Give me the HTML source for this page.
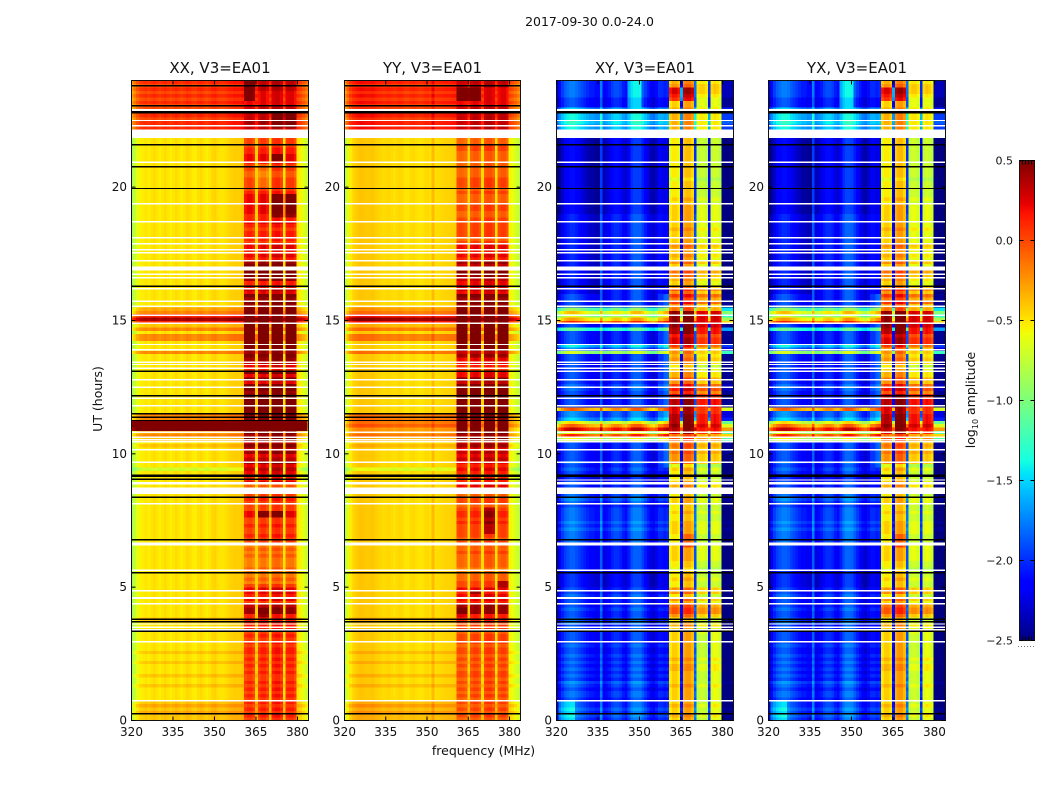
<!DOCTYPE html>
<html>
<head>
<meta charset="utf-8">
<title>2017-09-30 dynamic spectra</title>
<style>
html,body{margin:0;padding:0;background:#fff;}
svg{display:block;}
text{font-family:"DejaVu Sans","Liberation Sans",sans-serif;fill:#111;}
</style>
</head>
<body>
<svg id="figure" width="1050" height="800" viewBox="0 0 1050 800" xmlns="http://www.w3.org/2000/svg">
  <text x="589.5" y="26" font-size="12.5" text-anchor="middle">2017-09-30 0.0-24.0</text>
  <text transform="translate(102,399) rotate(-90)" font-size="12.5" text-anchor="middle">UT (hours)</text>
  <text x="483.5" y="755" font-size="12.5" text-anchor="middle">frequency (MHz)</text>
  <text transform="translate(975,400) rotate(-90)" font-size="12.5" text-anchor="middle">log<tspan font-size="8" dy="3">10</tspan><tspan dy="-3"> amplitude</tspan></text>
</svg>
<script>
// ---- Data ----
const panelTitles = ["XX, V3=EA01", "YY, V3=EA01", "XY, V3=EA01", "YX, V3=EA01"];
const freqTicks = [320, 335, 350, 365, 380];
const timeTicks = [0, 5, 10, 15, 20];
const colorTicks = [-2.5, -2.0, -1.5, -1.0, -0.5, 0.0, 0.5];
const firstChannelMHz = 319.7;
const rowsPerHour = 8;
const offsetUnit = 0.1;
const bandStarts = [360.7, 365.7, 370.7, 375.7];
const bandEnds = [364.7, 369.7, 374.7, 379.7];

// quiet-sky log10 amplitude per 1 MHz channel
const xxSpectrum = [
-.85,-.72,-.62,-.55,-.52,-.50,-.53,-.50,-.47,-.50,
-.53,-.50,-.47,-.50,-.53,-.50,-.47,-.50,-.53,-.50,
-.46,-.48,-.52,-.53,-.48,-.46,-.50,-.53,-.50,-.46,
-.44,-.48,-.50,-.50,-.48,-.45,-.44,-.42,-.42,-.42,
-.40,-.12,-.07,-.07,-.14,-.42,-.12,-.04,-.04,-.12,
-.45,-.04,.00,.00,-.07,-.50,-.07,-.04,-.04,-.12,
-.50,-.55,-.62,-.70,-.78];
const yySpectrum = [
-.80,-.65,-.52,-.46,-.42,-.40,-.39,-.40,-.41,-.41,
-.40,-.42,-.44,-.45,-.47,-.46,-.45,-.47,-.48,-.47,
-.45,-.47,-.50,-.50,-.47,-.46,-.48,-.50,-.50,-.47,
-.46,-.48,-.36,-.48,-.47,-.46,-.45,-.44,-.44,-.43,
-.42,-.10,-.08,-.10,-.14,-.44,-.10,-.05,-.05,-.12,
-.46,-.06,-.02,-.02,-.08,-.48,-.10,-.05,-.05,-.12,
-.55,-.60,-.66,-.73,-.82];
const xySpectrum = [
-2.40,-2.20,-2.05,-1.95,-1.90,-1.85,-1.85,-1.90,-1.95,-2.00,
-2.05,-2.10,-2.15,-2.15,-2.20,-2.20,-1.85,-2.25,-2.20,-2.15,
-2.05,-2.00,-2.00,-2.05,-2.15,-2.20,-2.05,-1.90,-1.85,-1.85,
-1.85,-1.95,-2.05,-2.15,-2.25,-2.30,-2.20,-2.10,-2.10,-2.15,
-2.10,-.62,-.52,-.52,-.62,-2.20,-.42,-.37,-.37,-.47,
-1.90,-.78,-.72,-.72,-.80,-2.10,-.75,-.68,-.72,-.80,
-2.45,-2.45,-2.45,-2.45,-2.45];
const yxSpectrum = [
-2.40,-2.20,-2.05,-1.95,-1.90,-1.85,-1.85,-1.88,-1.95,-2.00,
-2.05,-2.10,-2.15,-2.15,-2.20,-2.20,-1.85,-2.25,-2.20,-2.15,
-2.05,-2.00,-2.00,-2.05,-2.15,-2.20,-2.05,-1.90,-1.83,-1.83,
-1.85,-1.95,-2.05,-2.15,-2.25,-2.30,-2.20,-2.10,-2.10,-2.15,
-2.10,-.62,-.52,-.52,-.62,-2.20,-.42,-.35,-.35,-.47,
-1.90,-.75,-.70,-.70,-.78,-2.10,-.75,-.68,-.72,-.80,
-2.45,-2.45,-2.45,-2.45,-2.45];

// row offsets in tenths of a decade, 8 rows for each hour (line = one hour)
const coBackground = [
1,1,2,1,2,1,0,0,
0,0,1,0,0,1,0,0,
0,1,0,0,1,0,0,0,
0,0,0,0,0,0,1,0,
0,0,0,0,0,0,0,0,
0,0,0,0,0,0,0,0,
0,0,0,0,0,0,0,0,
0,0,0,0,0,0,0,0,
0,0,0,0,0,0,0,0,
0,0,0,-2,0,0,0,0,
0,0,1,0,1,3,2,2,
4,3,3,3,0,0,0,0,
0,0,0,0,0,0,0,0,
0,0,0,0,0,0,3,0,
0,0,3,3,0,3,1,6,
9,6,3,2,0,0,0,0,
0,0,0,0,0,0,0,0,
0,0,0,0,0,0,0,0,
0,0,0,0,0,0,0,0,
0,0,0,0,0,0,0,0,
0,0,0,0,0,0,0,0,
0,0,0,0,0,0,0,0,
6,6,6,6,5,6,6,5,
5,6,5,6,5,6,5,6];
const xxBand = [
1,2,1,2,1,2,1,2,
1,2,1,2,1,1,2,1,
2,1,2,1,2,2,1,2,
1,2,1,2,2,2,2,2,
5,5,4,1,3,2,3,3,
1,-1,0,-1,-1,0,-1,-1,
-1,0,-1,0,-1,1,1,2,
1,1,2,1,1,3,3,1,
1,1,2,1,3,2,0,3,
2,2,3,4,3,5,4,3,
5,4,6,4,7,5,9,9,
9,9,9,9,7,8,9,8,
7,8,5,8,6,3,6,3,
6,2,3,4,5,6,5,6,
6,8,8,9,9,9,9,9,
10,10,10,6,5,8,5,7,
3,4,2,2,5,6,7,7,
6,5,2,3,2,3,3,1,
2,2,2,1,2,3,2,2,
3,3,3,3,3,3,2,1,
1,1,1,0,0,1,1,2,
3,3,2,2,1,1,1,1,
4,4,4,5,4,4,4,4,
3,3,3,3,3,4,4,4];
const yyBand = [
0,1,0,1,0,1,0,1,
0,1,0,1,0,1,1,0,
1,0,1,0,1,1,0,1,
1,1,0,1,1,1,2,2,
5,5,5,2,3,3,2,3,
1,1,0,0,-1,-1,0,0,
0,0,1,0,0,1,0,1,
1,1,1,2,1,2,2,1,
0,1,1,0,3,3,3,2,
2,1,2,3,2,3,4,3,
4,3,5,4,6,5,8,9,
7,8,8,8,8,8,6,6,
7,7,6,6,6,4,6,3,
3,1,2,3,3,5,4,6,
7,8,8,8,9,9,9,9,
10,10,10,7,5,7,5,7,
3,4,3,3,4,5,6,5,
4,5,2,3,2,3,3,1,
0,1,1,1,1,1,1,0,
0,1,1,0,0,0,1,0,
1,1,1,0,0,0,0,0,
0,0,0,1,1,0,0,0,
4,4,4,4,4,4,4,4,
3,3,3,3,3,3,4,4];
const crossBackground = [
1,2,1,2,1,1,0,1,
1,0,1,2,0,1,0,1,
0,1,0,1,0,0,1,0,
0,0,0,1,0,2,1,0,
0,1,0,0,0,1,0,0,
-1,-1,-1,-1,-1,0,0,0,
0,0,0,0,0,1,1,1,
1,2,1,2,1,1,1,1,
0,1,2,1,0,-1,0,0,
-1,-1,0,1,0,1,0,0,
0,0,0,0,13,20,13,22,
18,14,4,2,2,18,0,0,
0,0,0,1,1,0,0,0,
0,0,0,0,0,0,12,2,
5,0,0,0,0,8,0,20,
16,12,15,10,0,0,0,0,
0,0,0,0,0,0,0,0,
0,0,0,0,0,0,0,0,
0,0,0,0,0,0,0,0,
-1,-1,-1,-1,-1,-1,-1,-1,
-1,-1,-1,-1,-1,-1,-1,-1,
-1,-1,-1,-1,-1,-1,-1,-1,
5,5,5,6,5,5,5,4,
0,0,0,1,1,1,1,1];
const crossBand = [
1,2,1,1,2,1,1,1,
1,1,2,1,1,1,1,2,
2,1,2,1,1,1,1,1,
1,1,1,1,2,1,0,3,
5,5,4,1,3,0,3,3,
0,0,1,0,0,-1,0,0,
1,1,1,1,1,0,0,0,
1,1,1,1,0,0,1,0,
0,1,1,0,2,2,2,1,
0,0,0,1,-1,3,3,3,
4,3,4,3,5,4,8,9,
10,9,9,9,8,8,9,9,
9,8,5,7,6,3,4,2,
2,1,0,2,3,2,3,3,
6,8,8,7,9,9,10,10,
10,10,10,4,3,6,4,6,
3,5,1,1,2,3,4,4,
1,3,1,2,1,2,3,1,
1,1,1,2,1,1,1,1,
1,1,1,0,1,0,0,0,
0,0,-1,0,0,0,0,0,
0,0,0,0,0,0,0,0,
2,2,2,2,2,2,2,2,
1,1,1,2,3,3,3,2];

// localized bursts: panel, time range (h), frequency range (MHz), change (decades)
const patchPanels = ["XX","XX","XX","XX","XX","XX","XX","XX", "YY","YY","YY","YY","YY", "XY","YX","XY","YX","XY","YX","XY","YX","XY","YX","XY","YX", "XY","YX","XY","YX","XY","YX","XY","YX"];
const patchStartHours = [10.875,18.9,21.0,22.3,23.3,3.9,7.6,20.0, 3.9,5.0,4.7,23.2,7.0, 23.3,23.3,9.5,9.5,9.5,9.5,0,0,6.5,6.5,0,0, 16,16,0,0,16,16,23,23];
const patchEndHours = [11.25,19.8,21.3,22.8,24,4.3,7.9,20.9, 4.3,5.3,4.9,23.8,8.0, 23.8,23.8,16,16,16,16,.75,.75,7,7,3.3,3.3, 22,22,10,10,22,22,24,24];
const patchStartMHz = [320,370.7,370.7,370.7,360.7,365.7,365.7,365.7, 360.7,375.7,365.7,360.7,370.7, 360.7,360.7,358.7,358.7,356.7,356.7,320.7,320.7,365.7,365.7,370.7,370.7, 320.7,320.7,379.7,379.7,379.7,379.7,345.7,345.7];
const patchEndMHz = [384,379.7,374.7,379.7,364.7,369.7,374.7,369.7, 364.7,379.7,369.7,369.7,374.7, 369.7,369.7,360.7,360.7,358.7,358.7,327,327,369.7,369.7,374.7,374.7, 336,336,385,385,385,385,351,351];
const patchDeltas = [1.0,.3,.25,.25,.3,.3,.3,-.15, .15,.35,.3,.4,.3, .5,.5,.3,.3,.12,.12,.3,.3,.3,.3,-.1,-.1, -.15,-.15,-.2,-.2,-.2,-.2,.35,.35];

// flagged times: white gaps (hours)
const gapStarts = [.72,2.93,3.38,3.48,3.60,4.36,4.55,4.84,5.62,6.56,8.11,8.50,8.85,9.66,10.13,10.43,10.51,10.60,10.79,11.78,12.06,12.48,12.76,13.19,13.33,13.41,13.89,14.08,14.87,15.17,15.52,15.70,16.17,16.59,16.71,16.88,17.22,17.52,17.63,17.86,18.08,18.68,19.36,20.91,21.85,22.29,22.48,22.85];
const gapEnds = [.76,2.97,3.42,3.52,3.64,4.40,4.63,4.88,5.66,6.68,8.15,8.73,8.94,9.70,10.17,10.47,10.55,10.64,10.83,11.82,12.10,12.52,12.80,13.23,13.37,13.45,13.93,14.12,14.91,15.21,15.56,15.74,16.21,16.63,16.75,17.03,17.26,17.56,17.67,17.90,18.12,18.72,19.40,20.95,22.16,22.33,22.52,22.93];
const crossGapTimes = [13.10, 9.02];
// flagged times: black lines (hours)
const coBlackLines = [.25,3.34,3.71,3.80,5.54,6.78,8.37,9.04,9.16,9.20,11.25,11.37,11.50,12.18,13.10,16.29,19.95,20.76,21.59,22.79,22.83,23.06,23.81];
const crossBlackLines = [.25,3.34,3.71,3.80,5.54,6.78,8.37,9.16,9.20,12.18,16.29,19.95,20.76,21.59,22.79,22.83];

// ---- Layout ----
const NS = "http://www.w3.org/2000/svg";
const svg = document.getElementById("figure");
const plotTop = 80.5, plotBottom = 720.5;
const panelLefts = [131.5, 344.5, 556.5, 768.5];
const panelRights = [308.5, 520.5, 733.5, 945.5];
const barLeft = 1019.5, barRight = 1034.5, barTop = 160.5, barBottom = 640.5;
const valueMin = -2.5, valueMax = 0.5;
const minGapPixels = 1.4;

const panelSpectra = [xxSpectrum, yySpectrum, xySpectrum, yxSpectrum];
const panelBackgrounds = [coBackground, coBackground, crossBackground, crossBackground];
const panelBands = [xxBand, yyBand, crossBand, crossBand];
const panelCodes = ["XX", "YY", "XY", "YX"];

function xScale(panel, mhz) {
  return panelLefts[panel] + (mhz - 320) * (panelRights[panel] - panelLefts[panel]) / 64;
}
function yScale(hours) {
  return plotBottom - hours * (plotBottom - plotTop) / 24;
}
function barScale(value) {
  return barBottom - (value - valueMin) * (barBottom - barTop) / (valueMax - valueMin);
}
function lerpStops(t, xs, ys) {
  if (t <= xs[0]) return ys[0];
  for (let i = 1; i < xs.length; i++) {
    if (t <= xs[i]) return ys[i - 1] + (ys[i] - ys[i - 1]) * (t - xs[i - 1]) / (xs[i] - xs[i - 1]);
  }
  return ys[ys.length - 1];
}
function jetColor(value) {
  const t = Math.max(0, Math.min(1, (value - valueMin) / (valueMax - valueMin)));
  const r = lerpStops(t, [0, .35, .66, .89, 1], [0, 0, 1, 1, .5]);
  const g = lerpStops(t, [0, .125, .375, .64, .91, 1], [0, 0, 1, 1, 0, 0]);
  const b = lerpStops(t, [0, .11, .34, .65, 1], [.5, 1, 1, 0, 0]);
  return "rgb(" + Math.round(r * 255) + "," + Math.round(g * 255) + "," + Math.round(b * 255) + ")";
}
function isInBand(mhz) {
  for (let i = 0; i < bandStarts.length; i++) {
    if (mhz >= bandStarts[i] && mhz < bandEnds[i]) return true;
  }
  return false;
}
function cellValue(panel, row, channel) {
  const mhz = firstChannelMHz + channel + 0.5;
  const hours = (row + 0.5) / rowsPerHour;
  const rowOffset = isInBand(mhz) ? panelBands[panel][row] : panelBackgrounds[panel][row];
  let value = panelSpectra[panel][channel] + rowOffset * offsetUnit;
  for (let p = 0; p < patchPanels.length; p++) {
    if (patchPanels[p] === panelCodes[panel] && hours >= patchStartHours[p] && hours < patchEndHours[p] && mhz >= patchStartMHz[p] && mhz < patchEndMHz[p]) {
      value += patchDeltas[p];
    }
  }
  return value;
}
function make(tag, attrs, parent) {
  const el = document.createElementNS(NS, tag);
  for (const key in attrs) el.setAttribute(key, attrs[key]);
  parent.appendChild(el);
  return el;
}

const defs = make("defs", {}, svg);

panelTitles.forEach(function (title, panel) {
  const left = panelLefts[panel], right = panelRights[panel];
  const code = panelCodes[panel].toLowerCase();

  const clip = make("clipPath", { id: "clip-" + code }, defs);
  make("rect", { x: left, y: plotTop, width: right - left, height: plotBottom - plotTop }, clip);

  const group = make("g", {}, svg);
  
  

  const heat = make("g", { "clip-path": "url(#clip-" + code + ")", "shape-rendering": "crispEdges" }, group);
  
  

  const totalRows = panelBands[panel].length;
  const fragment = document.createDocumentFragment();
  for (let row = 0; row < totalRows; row++) {
    const y0 = yScale((row + 1) / rowsPerHour);
    const y1 = yScale(row / rowsPerHour);
    for (let channel = 0; channel < panelSpectra[panel].length; channel++) {
      const x0 = xScale(panel, firstChannelMHz + channel);
      const x1 = xScale(panel, firstChannelMHz + channel + 1);
      const cell = make("rect", { x: x0, y: y0, width: x1 - x0 + .3, height: y1 - y0 + .3, fill: jetColor(cellValue(panel, row, channel)) }, fragment);
      
      
    }
  }
  heat.appendChild(fragment);

  gapStarts.forEach(function (start, i) {
    const yTop = yScale(gapEnds[i]);
    const yBottom = yScale(start);
    const gapHeight = Math.max(minGapPixels, yBottom - yTop);
    const gap = make("rect", { x: left, y: (yTop + yBottom - gapHeight) / 2, width: right - left, height: gapHeight, fill: "#fff" }, heat);
    
    
  });
  const blackTimes = panel < 2 ? coBlackLines : crossBlackLines;
  blackTimes.forEach(function (hours) {
    const line = make("rect", { x: left, y: yScale(hours) - .7, width: right - left, height: 1.4, fill: "#000" }, heat);
    
    
  });
  if (panel >= 2) {
    crossGapTimes.forEach(function (hours) {
      const gap = make("rect", { x: left, y: yScale(hours) - .7, width: right - left, height: 1.4, fill: "#fff" }, heat);
      
      
    });
  }

  const frame = make("rect", { x: left, y: plotTop, width: right - left, height: plotBottom - plotTop, fill: "none", stroke: "#111", "stroke-width": 1 }, group);
  
  

  freqTicks.forEach(function (mhz) {
    const x = xScale(panel, mhz);
    const tickBottom = make("line", { x1: x, x2: x, y1: plotBottom, y2: plotBottom - 4, stroke: "#000" }, group);
    
    
    const tickTop = make("line", { x1: x, x2: x, y1: plotTop, y2: plotTop + 4, stroke: "#000" }, group);
    
    
    const label = make("text", { x: x, y: 736, "font-size": 12, "text-anchor": "middle" }, group);
    label.textContent = String(mhz);
    
    
  });
  timeTicks.forEach(function (hours) {
    const y = yScale(hours);
    const tickLeft = make("line", { x1: left, x2: left + 4, y1: y, y2: y, stroke: "#000" }, group);
    
    
    const tickRight = make("line", { x1: right, x2: right - 4, y1: y, y2: y, stroke: "#000" }, group);
    
    
    const label = make("text", { x: left - 4.5, y: y + 4, "font-size": 12, "text-anchor": "end" }, group);
    label.textContent = String(hours);
    
    
  });
  const heading = make("text", { x: (left + right) / 2, y: 73, "font-size": 15, "text-anchor": "middle" }, group);
  heading.textContent = title;
  
  
});

// ---- Colorbar ----
const bar = make("g", {}, svg);


const barSteps = 240;
const barFill = make("g", { "shape-rendering": "crispEdges" }, bar);
for (let i = 0; i < barSteps; i++) {
  const low = valueMin + (valueMax - valueMin) * i / barSteps;
  const high = valueMin + (valueMax - valueMin) * (i + 1) / barSteps;
  const swatch = make("rect", { x: barLeft, y: barScale(high), width: barRight - barLeft, height: barScale(low) - barScale(high) + .5, fill: jetColor((low + high) / 2) }, barFill);
  
  
}
const barFrame = make("rect", { x: barLeft, y: barTop, width: barRight - barLeft, height: barBottom - barTop, fill: "none", stroke: "#111" }, bar);


colorTicks.forEach(function (value) {
  const y = barScale(value);
  const tickA = make("line", { x1: barLeft, x2: barLeft + 4, y1: y, y2: y, stroke: "#000" }, bar);
  
  
  const tickB = make("line", { x1: barRight, x2: barRight - 4, y1: y, y2: y, stroke: "#000" }, bar);
  
  
  const label = make("text", { x: 1013, y: y + 4, "font-size": 11, "text-anchor": "end" }, bar);
  label.textContent = value.toFixed(1).replace("-", "\u2212");
  
  
});
[1022.5, 1025.5, 1028.5, 1031.5].forEach(function (x) {
  const topMark = make("line", { x1: x, x2: x, y1: barTop, y2: barTop + 4, stroke: "#000" }, bar);
  
  
  const bottomMark = make("line", { x1: x, x2: x, y1: barBottom, y2: barBottom - 4, stroke: "#000" }, bar);
  
  
});
const dots = make("line", { x1: 1018, x2: 1035, y1: 646.5, y2: 646.5, stroke: "#777", "stroke-dasharray": "1 2" }, bar);


</script>
</body>
</html>
